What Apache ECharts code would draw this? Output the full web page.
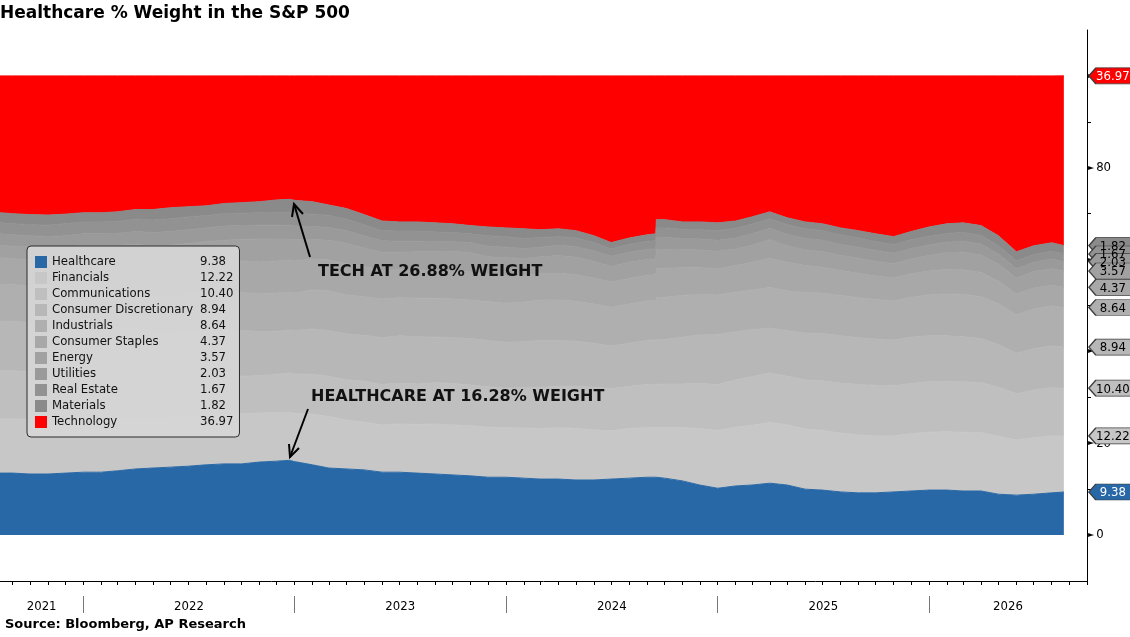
<!DOCTYPE html>
<html>
<head>
<meta charset="utf-8">
<title>Healthcare % Weight in the S&P 500</title>
<script src="https://cdn.jsdelivr.net/npm/echarts@6.0.0/dist/echarts.min.js"></script>
<style>
  html, body { margin: 0; padding: 0; background: #fff; }
  #chart { width: 1130px; height: 637px; }
</style>
</head>
<body>
<div id="chart"></div>
<script>
// S&P 500 sector weights (%), stacked to 100..

const dates = [
  '2021-08-10', '2021-09-01', '2021-10-01', '2021-11-01', '2021-12-01',
  '2022-01-01', '2022-02-01', '2022-03-01', '2022-04-01', '2022-05-01', '2022-06-01',
  '2022-07-01', '2022-08-01', '2022-09-01', '2022-10-01', '2022-11-01', '2022-12-01', '2022-12-23',
  '2023-01-01', '2023-02-01', '2023-03-01', '2023-04-01', '2023-05-01', '2023-06-01',
  '2023-07-01', '2023-08-01', '2023-09-01', '2023-10-01', '2023-11-01', '2023-12-01',
  '2024-01-01', '2024-02-01', '2024-03-01', '2024-04-01', '2024-05-01', '2024-06-01',
  '2024-07-01', '2024-08-01', '2024-09-01', '2024-09-16', '2024-09-17', '2024-10-01', '2024-11-01', '2024-12-01',
  '2025-01-01', '2025-02-01', '2025-03-01', '2025-04-01', '2025-05-01', '2025-06-01',
  '2025-07-01', '2025-08-01', '2025-09-01', '2025-10-01', '2025-11-01', '2025-12-01',
  '2026-01-01', '2026-02-01', '2026-03-01', '2026-04-01', '2026-05-01', '2026-06-01',
  '2026-07-01', '2026-08-01', '2026-08-22'
];

const healthcare = [
  13.5, 13.5, 13.3, 13.3, 13.5,
  13.7, 13.7, 14.0, 14.4, 14.6, 14.8, 15.0, 15.3, 15.5, 15.5, 15.9, 16.1, 16.28,
  16.0, 15.3, 14.6, 14.4, 14.2, 13.7, 13.7, 13.5, 13.3, 13.1, 12.9, 12.6,
  12.6, 12.4, 12.2, 12.2, 12.0, 12.0, 12.2, 12.4, 12.6, 12.6, 12.6, 12.4, 11.8, 10.9,
  10.2, 10.7, 10.9, 11.3, 10.9, 10.0, 9.8, 9.4, 9.2, 9.2, 9.4, 9.6,
  9.8, 9.8, 9.6, 9.6, 8.9, 8.7, 8.9, 9.2, 9.38
];
const financials = [
  11.8, 11.8, 11.9, 11.8, 11.6,
  11.7, 11.7, 11.4, 11.1, 10.8, 10.7, 10.8, 10.9, 10.8, 10.9, 10.7, 10.6, 10.4,
  10.5, 11.0, 11.2, 10.6, 10.4, 10.3, 10.5, 10.6, 10.9, 10.9, 10.9, 10.9,
  10.8, 10.9, 11.0, 11.2, 11.2, 10.9, 10.5, 10.8, 10.8, 10.8, 10.8, 11.0, 11.6, 12.3,
  12.6, 12.8, 13.0, 13.2, 13.1, 13.1, 13.0, 12.8, 12.6, 12.4, 12.2, 12.5,
  12.6, 12.7, 12.8, 12.7, 12.6, 12.0, 12.3, 12.4, 12.22
];
const communications = [
  10.5, 10.5, 10.3, 10.1, 10.0,
  9.9, 9.5, 9.3, 9.1, 8.8, 8.7, 8.8, 8.6, 8.4, 8.2, 8.1, 8.3, 8.6,
  8.6, 8.7, 8.8, 8.8, 8.9, 8.8, 8.9, 8.8, 9.0, 9.0, 8.9, 8.8,
  8.6, 8.8, 9.0, 9.0, 9.2, 9.3, 9.2, 9.2, 9.4, 9.4, 9.4, 9.5, 9.5, 9.8,
  10.0, 10.3, 10.6, 10.8, 10.6, 10.7, 10.8, 10.9, 11.0, 11.0, 10.9, 10.9,
  11.0, 11.0, 11.0, 10.9, 10.7, 10.1, 10.4, 10.5, 10.40
];
const consumerDiscretionary = [
  10.8, 10.7, 10.8, 11.2, 11.3,
  11.1, 10.8, 10.5, 10.4, 9.8, 9.7, 9.9, 10.1, 10.0, 10.0, 9.6, 9.4, 9.4,
  9.4, 9.9, 9.9, 10.0, 10.0, 10.2, 10.3, 10.3, 9.9, 10.0, 10.1, 10.1,
  10.0, 10.0, 10.2, 10.0, 9.8, 9.6, 9.3, 9.4, 9.6, 9.7, 9.7, 9.7, 10.2, 10.6,
  10.9, 10.5, 10.2, 9.8, 9.9, 10.2, 10.3, 10.3, 10.2, 10.1, 10.0, 10.1,
  10.0, 9.9, 9.8, 9.6, 9.3, 8.8, 9.0, 9.1, 8.94
];
const industrials = [
  8.0, 8.0, 8.0, 7.9, 8.0,
  8.0, 8.0, 8.0, 8.0, 8.1, 8.0, 8.0, 8.1, 8.1, 8.2, 8.3, 8.3, 8.2,
  8.2, 8.5, 8.7, 8.5, 8.4, 8.4, 8.3, 8.4, 8.5, 8.4, 8.4, 8.4,
  8.5, 8.6, 8.8, 8.8, 8.7, 8.5, 8.4, 8.5, 8.6, 8.6, 9.2, 9.2, 9.1, 8.8,
  8.6, 8.6, 8.7, 8.8, 8.7, 8.8, 8.8, 8.8, 8.7, 8.6, 8.5, 8.7,
  8.9, 9.1, 9.2, 9.1, 8.9, 8.4, 8.6, 8.7, 8.64
];
const consumerStaples = [
  5.8, 5.7, 5.6, 5.5, 5.6,
  5.8, 6.0, 6.1, 6.3, 6.6, 6.6, 6.8, 6.7, 6.8, 6.9, 6.9, 7.0, 7.0,
  7.0, 6.7, 6.7, 6.8, 6.6, 6.2, 6.1, 6.1, 6.0, 6.0, 6.1, 6.0,
  6.0, 5.8, 5.8, 5.8, 5.8, 5.7, 5.5, 5.6, 5.6, 5.6, 6.4, 6.3, 6.0, 5.8,
  5.7, 5.8, 6.0, 6.4, 6.2, 5.9, 5.6, 5.4, 5.3, 5.1, 5.0, 5.1,
  5.2, 5.4, 5.4, 5.3, 4.9, 4.5, 4.6, 4.5, 4.37
];
const energy = [
  2.7, 2.7, 2.9, 2.8, 2.7,
  2.9, 3.4, 3.8, 4.0, 4.3, 4.7, 4.2, 4.2, 4.6, 4.7, 5.0, 4.8, 4.6,
  4.6, 4.3, 4.3, 4.4, 4.0, 4.0, 3.8, 4.0, 4.1, 4.4, 4.2, 3.8,
  3.9, 3.7, 3.6, 3.9, 3.8, 3.6, 3.4, 3.5, 3.4, 3.4, 4.1, 4.1, 4.0, 3.9,
  3.8, 3.6, 3.7, 4.0, 3.6, 3.4, 3.4, 3.3, 3.3, 3.2, 3.1, 3.2,
  3.4, 3.6, 3.8, 3.8, 3.7, 3.5, 3.6, 3.6, 3.57
];
const utilities = [
  2.5, 2.5, 2.4, 2.4, 2.5,
  2.5, 2.5, 2.6, 2.8, 2.9, 2.9, 3.0, 3.0, 3.1, 3.0, 3.0, 3.0, 3.0,
  3.0, 2.8, 2.8, 2.8, 2.7, 2.5, 2.4, 2.3, 2.2, 2.1, 2.2, 2.3,
  2.3, 2.2, 2.1, 2.2, 2.3, 2.3, 2.2, 2.2, 2.2, 2.2, 2.6, 2.6, 2.4, 2.4,
  2.4, 2.4, 2.5, 2.5, 2.5, 2.5, 2.5, 2.4, 2.4, 2.4, 2.3, 2.3,
  2.3, 2.3, 2.4, 2.4, 2.2, 2.0, 2.0, 2.1, 2.03
];
const realEstate = [
  2.4, 2.4, 2.4, 2.5, 2.6,
  2.6, 2.6, 2.6, 2.7, 2.7, 2.8, 2.8, 2.7, 2.7, 2.7, 2.7, 2.8, 2.8,
  2.8, 2.7, 2.6, 2.5, 2.4, 2.2, 2.2, 2.2, 2.1, 2.0, 1.9, 2.3,
  2.3, 2.2, 2.1, 1.9, 1.9, 1.8, 1.6, 1.7, 1.8, 1.8, 2.1, 2.1, 2.0, 2.0,
  2.1, 2.1, 2.1, 2.1, 2.1, 2.1, 2.1, 2.1, 2.0, 1.9, 1.9, 1.9,
  1.9, 1.9, 1.9, 1.9, 1.8, 1.7, 1.7, 1.7, 1.67
];
const materials = [
  2.2, 2.2, 2.2, 2.2, 2.1,
  2.0, 2.0, 2.1, 2.1, 2.3, 2.4, 2.2, 2.1, 2.2, 2.3, 2.4, 2.7, 2.84,
  2.8, 2.7, 2.3, 2.3, 2.2, 2.1, 2.0, 2.0, 2.0, 1.9, 1.8, 1.9,
  1.9, 2.1, 1.7, 1.7, 1.6, 1.5, 1.4, 1.4, 1.4, 1.5, 1.8, 1.8, 1.6, 1.7,
  1.7, 1.6, 1.6, 1.5, 1.5, 1.5, 1.5, 1.5, 1.6, 1.7, 1.7, 1.8,
  2.0, 2.1, 2.1, 2.1, 2.2, 2.0, 1.9, 1.85, 1.82
];
const technology = [
  29.8, 30.0, 30.2, 30.3, 30.1,
  29.8, 29.8, 29.6, 29.1, 29.1, 28.7, 28.5, 28.3, 27.8, 27.6, 27.4, 27.0, 26.88,
  27.1, 27.4, 28.1, 28.9, 30.2, 31.6, 31.8, 31.8, 32.0, 32.2, 32.6, 32.9,
  33.1, 33.3, 33.5, 33.3, 33.7, 34.8, 36.3, 35.3, 34.6, 34.4, 31.3, 31.3, 31.8, 31.8,
  32.0, 31.6, 30.7, 29.6, 30.9, 31.8, 32.2, 33.1, 33.7, 34.4, 35.0, 33.9,
  32.9, 32.2, 32.0, 32.6, 34.8, 38.3, 37.0, 36.35, 36.97
];

const sectorNames = [
  'Healthcare', 'Financials', 'Communications', 'Consumer Discretionary', 'Industrials',
  'Consumer Staples', 'Energy', 'Utilities', 'Real Estate', 'Materials', 'Technology'
];
const sectorValues = [
  healthcare, financials, communications, consumerDiscretionary, industrials,
  consumerStaples, energy, utilities, realEstate, materials, technology
];
const sectorColors = [
  '#2968a6', '#c7c7c7', '#bfbfbf', '#b7b7b7', '#afafaf',
  '#a8a8a8', '#a1a1a1', '#9a9a9a', '#929292', '#8a8a8a', '#ff0000'
];

const xMin = '2021-08-10';
const xMax = '2026-10-01';
const yearLabels = [2021, 2022, 2023, 2024, 2025, 2026];
const yLabelValues = [0, 20, 40, 60, 80, 100];
const yTickValues = [10, 30, 50, 70, 90];

const FONT = "'DejaVu Sans Condensed', 'Liberation Sans', sans-serif";
const TAG_PATH = 'path://M0,8 L7,0 L46,0 L46,16 L7,16 Z';

function toTime(s) {
  const p = s.split('-').map(Number);
  return new Date(p[0], p[1] - 1, p[2]).getTime();
}

const tMin = toTime(xMin);
const tMax = toTime(xMax);
const times = dates.map(toTime);

// monthly ticks along the bottom axis
const monthTicks = [];
for (let d = new Date(2021, 8, 1); d.getTime() <= tMax; d = new Date(d.getFullYear(), d.getMonth() + 1, 1)) {
  monthTicks.push(d.getTime());
}
// year separators, and year labels centred in the visible part of each year
const yearStarts = yearLabels.slice(1).map(y => new Date(y, 0, 1).getTime());
const yearLabelPos = yearLabels.map(y => {
  const a = Math.max(new Date(y, 0, 1).getTime(), tMin);
  const b = Math.min(new Date(y + 1, 0, 1).getTime(), tMax);
  return (a + b) / 2;
});

// last-value tags at the top edge of each layer; listed top layer first so
// the lower tags end up drawn over the upper ones
const lastTime = times[times.length - 1];
const tags = [];
let cum = 0;
sectorValues.forEach((vals, i) => {
  const last = vals[vals.length - 1];
  cum += last;
  const light = i === 0 || i === sectorValues.length - 1;
  tags.unshift({
    coord: [lastTime, cum],
    value: last,
    itemStyle: { color: sectorColors[i], borderColor: '#3c3c3c', borderWidth: 1 },
    label: { color: light ? '#fff' : '#000', formatter: last.toFixed(2) }
  });
});

const series = sectorValues.map((vals, i) => {
  const color = sectorColors[i];
  const s = {
    name: sectorNames[i],
    type: 'line',
    stack: 'total',
    xAxisIndex: 0,
    data: times.map((t, j) => [t, vals[j]]),
    symbol: 'none',
    showSymbol: false,
    lineStyle: { width: 1, color: color },
    itemStyle: { color: color },
    areaStyle: { color: color, opacity: 1 },
    emphasis: { disabled: true },
    silent: true
  };
  if (i === sectorValues.length - 1) {
    s.markPoint = {
      symbol: TAG_PATH,
      symbolSize: [46, 16],
      symbolKeepAspect: false,
      symbolOffset: [48, 0],
      silent: true,
      label: { show: true, position: 'inside', offset: [1, 1], fontSize: 13, fontFamily: FONT },
      data: tags
    };
  }
  return s;
});

const legendValue = {};
sectorNames.forEach((n, i) => {
  const v = sectorValues[i];
  legendValue[n] = v[v.length - 1].toFixed(2);
});

const chart = echarts.init(document.getElementById('chart'), null, { renderer: 'canvas' });

chart.setOption({
  animation: false,
  backgroundColor: '#fff',
  textStyle: { fontFamily: FONT },
  grid: { left: 0, right: 43, top: 30, bottom: 56, containLabel: false },
  legend: {
    data: sectorNames,
    orient: 'vertical',
    left: 27,
    top: 246,
    icon: 'rect',
    itemWidth: 12,
    itemHeight: 12,
    itemGap: 0,
    selectedMode: false,
    padding: [8, 6, 7, 8],
    backgroundColor: 'rgba(214,214,214,0.92)',
    borderColor: '#2a2a2a',
    borderWidth: 1,
    borderRadius: 4,
    itemStyle: { borderWidth: 0 },
    formatter: name => '{n|' + name + '}{v|' + legendValue[name] + '}',
    textStyle: {
      color: '#111', fontSize: 13, fontFamily: FONT, lineHeight: 16,
      rich: {
        n: { width: 148, fontSize: 13, fontFamily: FONT, color: '#111', lineHeight: 16 },
        v: { fontSize: 13, fontFamily: FONT, color: '#111', lineHeight: 16 }
      }
    }
  },
  xAxis: [
    {
      // data axis: only its line is shown
      type: 'time',
      min: tMin,
      max: tMax,
      axisLine: { show: true, onZero: false, lineStyle: { color: '#000', width: 1 } },
      axisTick: { show: false },
      axisLabel: { show: false },
      splitLine: { show: false }
    },
    {
      // monthly ticks and year labels
      type: 'value',
      min: tMin,
      max: tMax,
      position: 'bottom',
      axisLine: { show: false, onZero: false },
      axisTick: { show: true, customValues: monthTicks, length: 4, lineStyle: { color: '#000' } },
      axisLabel: {
        customValues: yearLabelPos,
        formatter: v => String(new Date(v).getFullYear()),
        color: '#000', fontSize: 13, fontFamily: FONT, margin: 19,
        hideOverlap: false
      },
      splitLine: { show: false }
    },
    {
      // year separators
      type: 'value',
      min: tMin,
      max: tMax,
      position: 'bottom',
      offset: 15,
      axisLine: { show: false, onZero: false },
      axisLabel: { show: false },
      axisTick: { show: true, customValues: yearStarts, length: 17, lineStyle: { color: '#777', width: 1 } },
      splitLine: { show: false }
    }
  ],
  yAxis: {
    type: 'value',
    position: 'right',
    min: -10,
    max: 110,
    axisLine: { show: true, onZero: false, lineStyle: { color: '#000', width: 1 } },
    axisTick: { show: true, customValues: yTickValues, length: 4, inside: false, lineStyle: { color: '#000' } },
    axisLabel: {
      customValues: yLabelValues,
      margin: 1,
      formatter: v => '{t|\u25BA}{v|' + v + '}',
      rich: {
        t: { fontSize: 8, color: '#000', fontFamily: 'DejaVu Sans', padding: [0, 2, 0, 0] },
        v: { fontSize: 13, color: '#000', fontFamily: FONT }
      }
    },
    splitLine: { show: false }
  },
  series: series,
  graphic: [
    {
      type: 'text', x: 0, y: 14, z: 100,
      style: { text: 'Healthcare % Weight in the S&P 500', font: 'bold 17px "DejaVu Sans"', fill: '#000', verticalAlign: 'middle' }
    },
    {
      type: 'text', x: 5, y: 625, z: 100,
      style: { text: 'Source: Bloomberg, AP Research', font: 'bold 13px "DejaVu Sans"', fill: '#000', verticalAlign: 'middle' }
    },
    {
      type: 'text', x: 318, y: 272, z: 100,
      style: { text: 'TECH AT 26.88% WEIGHT', font: 'bold 16px "DejaVu Sans"', fill: '#111', verticalAlign: 'middle' }
    },
    {
      type: 'text', x: 311, y: 397, z: 100,
      style: { text: 'HEALTHCARE AT 16.28% WEIGHT', font: 'bold 16px "DejaVu Sans"', fill: '#111', verticalAlign: 'middle' }
    },
    {
      type: 'polyline', z: 100,
      shape: { points: [[310, 257], [294, 204]] },
      style: { stroke: '#000', lineWidth: 2, fill: null }
    },
    {
      type: 'polyline', z: 100,
      shape: { points: [[292, 217], [294, 204], [303, 214]] },
      style: { stroke: '#000', lineWidth: 2, fill: null }
    },
    {
      type: 'polyline', z: 100,
      shape: { points: [[308, 409], [290, 457]] },
      style: { stroke: '#000', lineWidth: 2, fill: null }
    },
    {
      type: 'polyline', z: 100,
      shape: { points: [[289, 444], [290, 457], [299, 448]] },
      style: { stroke: '#000', lineWidth: 2, fill: null }
    }
  ]
});
</script>
</body>
</html>
